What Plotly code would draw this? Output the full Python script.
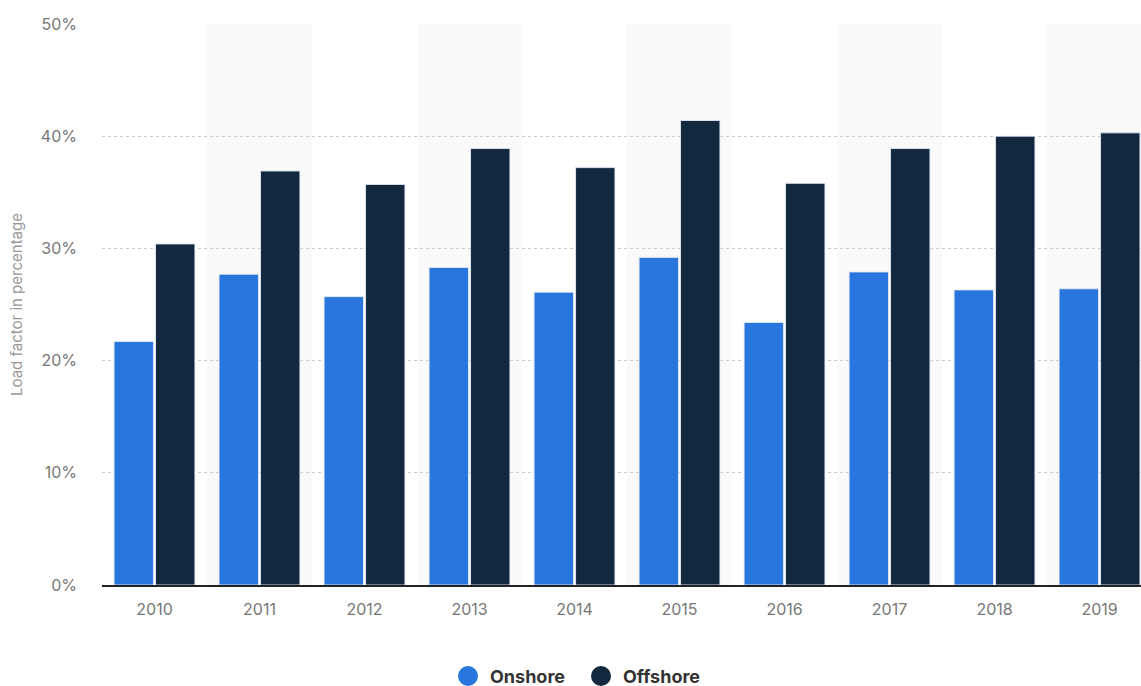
import plotly.graph_objects as go

years = ["2010", "2011", "2012", "2013", "2014", "2015", "2016", "2017", "2018", "2019"]
onshore = [21.7, 27.7, 25.7, 28.3, 26.1, 29.2, 23.4, 27.9, 26.3, 26.4]
offshore = [30.4, 36.9, 35.7, 38.9, 37.2, 41.4, 35.8, 38.9, 40.0, 40.3]
y_ticks = [0, 10, 20, 30, 40, 50]
y_tick_labels = ["0%", "10%", "20%", "30%", "40%", "50%"]
series_names = ["Onshore", "Offshore"]

ON_COLOR = "#2876dd"
OFF_COLOR = "#12283f"
FONT = "Inter, Roboto, Arial, sans-serif"

W, H = 1141, 686
ML, MR, MT, MB = 102, 0, 24, 101
PW, PH = W - ML - MR, H - MT - MB


def px_to_paper_x(px):
    return (px - ML) / PW


def px_to_paper_y(py):
    return (H - MB - py) / PH


fig = go.Figure()

for name, vals, color in zip(series_names, [onshore, offshore], [ON_COLOR, OFF_COLOR]):
    fig.add_trace(go.Bar(
        name=name, x=years, y=vals, marker_color=color,
        marker_line=dict(color="rgba(225,232,245,0.9)", width=1),
        showlegend=False, hovertemplate="%{x}: %{y}%<extra>" + name + "</extra>",
    ))

# Alternating column shading
shapes = []
for i in range(1, len(years), 2):
    shapes.append(dict(
        type="rect", xref="x", yref="paper",
        x0=i - 0.5, x1=i + 0.5, y0=0, y1=1,
        fillcolor="#fafafa", line=dict(width=0), layer="below",
    ))

# Legend below the chart: round swatches with bold labels
annotations = []
legend_y = px_to_paper_y(676)
for name, color, cx in zip(series_names, [ON_COLOR, OFF_COLOR], [468, 601]):
    shapes.append(dict(
        type="circle", xref="paper", yref="paper",
        xsizemode="pixel", ysizemode="pixel",
        xanchor=px_to_paper_x(cx), yanchor=legend_y,
        x0=-10, x1=10, y0=-10, y1=10,
        fillcolor=color, line=dict(width=0),
    ))
    annotations.append(dict(
        text=name, xref="paper", yref="paper",
        x=px_to_paper_x(cx + 20), y=legend_y, xanchor="left", yanchor="middle",
        showarrow=False, font=dict(family=FONT, size=18, color="#333333", weight="bold"),
    ))

fig.update_layout(
    width=W, height=H,
    margin=dict(l=ML, r=MR, t=MT, b=MB, autoexpand=False),
    paper_bgcolor="white", plot_bgcolor="white",
    barmode="group", bargap=0.21, bargroupgap=0.05,
    shapes=shapes, annotations=annotations,
    font=dict(family=FONT, color="#777777"),
    showlegend=False,
    xaxis=dict(
        type="category", range=[-0.5, 9.395],
        showgrid=False, showline=True, linecolor="#222222", linewidth=2,
        ticks="", tickfont=dict(size=16, color="#777777"),
        ticklabelstandoff=9,
    ),
    yaxis=dict(
        range=[0, 50], tickvals=y_ticks, ticktext=y_tick_labels,
        showgrid=True, gridcolor="#cccccc", griddash="dot", gridwidth=1,
        zeroline=False, ticks="", tickfont=dict(size=16, color="#777777"),
        ticklabelstandoff=24,
        title=dict(text="Load factor in percentage", font=dict(size=15, color="#999999"), standoff=14),
    ),
)

fig.write_html("out.html")
